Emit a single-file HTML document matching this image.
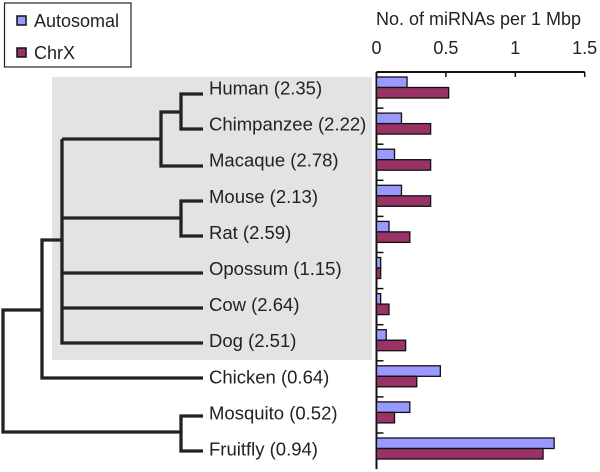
<!DOCTYPE html>
<html><head><meta charset="utf-8"><style>
body{margin:0;background:#fff}
svg{display:block;font-family:"Liberation Sans",Arial,sans-serif}
</style></head><body>
<svg id="c" width="600" height="472" viewBox="0 0 600 472">
<rect x="52" y="77" width="320" height="283" fill="#e3e3e3"/>
<g>
<rect x="4.5" y="3" width="126.5" height="64" fill="#fff" stroke="#222" stroke-width="1.2"/>
<rect x="17" y="16" width="9" height="9" fill="#9999ff" stroke="#111" stroke-width="1.5"/>
<text x="34" y="27" font-size="18" fill="#222">Autosomal</text>
<rect x="17" y="48" width="9" height="9" fill="#993366" stroke="#111" stroke-width="1.5"/>
<text x="34" y="59" font-size="18" fill="#222">ChrX</text>
</g>
<g id="tree" stroke="#222" stroke-width="3.3" fill="none">
<path d="M203 94H181V129H203M181 112H161V166H203M161 139H62M203 201H181V236H203M181 218H62M62 139V343H203M62 273H203M62 308H203M62 240H42V378H203M42 310H3V432H181M203 416H181V451H203"/>
</g>
<g id="labels" font-size="18.5" fill="#222"></g>
<text x="376" y="25" font-size="18" fill="#222">No. of miRNAs per 1 Mbp</text>
<g id="axis"></g>
<g id="bars"></g>
</svg>
<script>
const species = ["Human (2.35)","Chimpanzee (2.22)","Macaque (2.78)","Mouse (2.13)","Rat (2.59)","Opossum (1.15)","Cow (2.64)","Dog (2.51)","Chicken (0.64)","Mosquito (0.52)","Fruitfly (0.94)"];
const autosomal = [0.22,0.18,0.13,0.18,0.09,0.03,0.03,0.07,0.46,0.24,1.28];
const chrx = [0.52,0.39,0.39,0.39,0.24,0.03,0.09,0.21,0.29,0.13,1.20];
const ticks = [0,0.5,1,1.5];
const tickLabels = ["0","0.5","1","1.5"];
const NS="http://www.w3.org/2000/svg";
const x0=376.5, pxPerUnit=138.8, yTop=72, band=36.1;
const xs=v=>x0+v*pxPerUnit;
const yb=i=>yTop+i*band;
function mk(tag,attrs,parent){const e=document.createElementNS(NS,tag);for(const k in attrs)e.setAttribute(k,attrs[k]);parent.appendChild(e);return e;}
const axis=document.getElementById('axis'),bars=document.getElementById('bars'),labels=document.getElementById('labels');
const axisLine=mk('path',{d:`M${xs(0)} ${yb(0)}H${xs(1.5)}M${xs(0)} ${yb(0)}V${yb(species.length)}`,stroke:'#111','stroke-width':2,fill:'none'},axis);


ticks.forEach((t,i)=>{
  const l=mk('line',{x1:xs(t),x2:xs(t),y1:yb(0),y2:yb(0)+5,stroke:'#111','stroke-width':1.5},axis);
  
  
  const tx=mk('text',{x:xs(t),y:54,'font-size':18,fill:'#222','text-anchor':'middle'},axis);
  tx.textContent=tickLabels[i];
  
  
});
species.forEach((s,i)=>{
  const y=yb(i);
  if(i>0){const tk=mk('line',{x1:xs(0),x2:xs(0)+7,y1:y,y2:y,stroke:'#111','stroke-width':1.5},axis);
  
  }
  const b1=mk('rect',{x:xs(0),y:y+5,width:xs(autosomal[i])-xs(0),height:10.5,fill:'#9999ff',stroke:'#111','stroke-width':1.3},bars);
  
  
  const b2=mk('rect',{x:xs(0),y:y+15.5,width:xs(chrx[i])-xs(0),height:10.5,fill:'#993366',stroke:'#111','stroke-width':1.3},bars);
  
  
  const t=mk('text',{x:209,y:y+22.5},labels);
  t.textContent=s;
  
  
});
</script>
</body></html>
